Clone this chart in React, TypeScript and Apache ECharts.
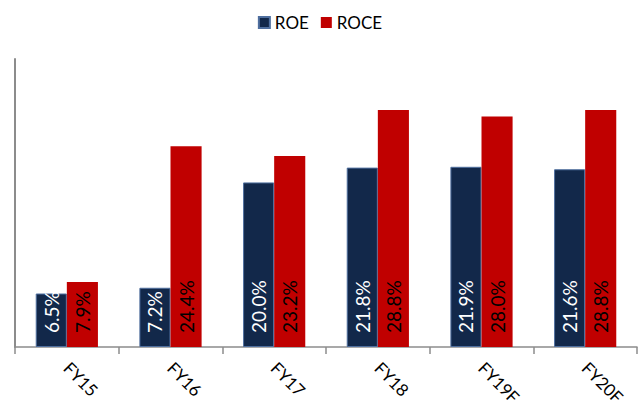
import React, { useEffect, useRef } from "react";
import * as echarts from "echarts";

const categories = ["FY15", "FY16", "FY17", "FY18", "FY19F", "FY20F"];
const roe = [6.5, 7.2, 20.0, 21.8, 21.9, 21.6];
const roce = [7.9, 24.4, 23.2, 28.8, 28.0, 28.8];

export default function App() {
  const ref = useRef<HTMLDivElement>(null);
  useEffect(() => {
    const chart = echarts.init(ref.current!, null, { renderer: "svg" });
    const font = "Lato, 'Open Sans', sans-serif";
    const label = (color: string) => ({
      show: true,
      position: "insideBottom",
      distance: 14,
      rotate: 90,
      align: "left",
      verticalAlign: "middle",
      color,
      fontSize: 19,
      fontFamily: font,
      formatter: (p: any) => p.value.toFixed(1) + "%",
    });
    chart.setOption({
      animation: false,
      legend: {
        top: 9,
        left: "center",
        itemWidth: 11,
        itemHeight: 11,
        itemGap: 12,
        icon: "rect",
        textStyle: { fontSize: 17, fontFamily: font, color: "#000" },
        data: ["ROE", "ROCE"],
      },
      grid: { left: 15, right: 3, top: 59, bottom: 56, outerBoundsMode: "none", containLabel: false },
      xAxis: {
        type: "category",
        data: categories,
        axisLine: { lineStyle: { color: "#8c8c8c", width: 1.5 } },
        axisTick: { show: true, length: 7, lineStyle: { color: "#8c8c8c", width: 1.5 } },
        axisLabel: {
          rotate: -45,
          margin: 18,
          fontSize: 17,
          fontFamily: font,
          color: "#000",
        },
      },
      yAxis: {
        type: "value",
        min: 0,
        max: 35,
        axisLine: { show: true, lineStyle: { color: "#8c8c8c", width: 2 } },
        axisTick: { show: false },
        axisLabel: { show: false },
        splitLine: { show: false },
      },
      series: [
        {
          name: "ROE",
          type: "bar",
          data: roe,
          barGap: "0%",
          barCategoryGap: "40%",
          itemStyle: { color: "#12284a", borderColor: "#4f6f9f", borderWidth: 1 },
          label: label("#fff"),
        },
        {
          name: "ROCE",
          type: "bar",
          data: roce,
          itemStyle: { color: "#c00000" },
          label: label("#000"),
        },
      ],
    });
    return () => chart.dispose();
  }, []);
  return (
    <div
      ref={ref}
      style={{ position: "absolute", left: 0, top: 0, width: 640, height: 403 }}
    />
  );
}
